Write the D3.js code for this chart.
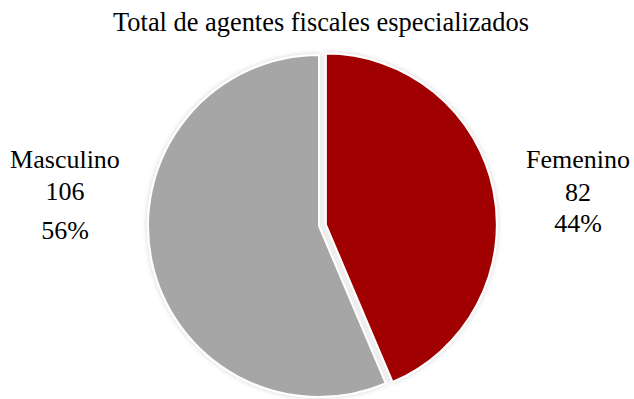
<!DOCTYPE html>
<html>
<head>
<meta charset="utf-8">
<script src="https://cdn.jsdelivr.net/npm/d3@7"></script>
<style>
    body { margin: 0; background: #fff; }
    svg text { font-family: "Times New Roman", "Liberation Serif", Times, serif; fill: #000; }
</style>
</head>
<body>
<div id="chart"></div>
<script>
const title = 'Total de agentes fiscales especializados';
const categories = ['Femenino', 'Masculino'];
const values = [82, 106];
const percentLabels = ['44%', '56%'];
const colors = ['#a00000', '#a6a6a6'];

function pie() {
    let width = 634;
    let height = 399;
    let center = {x: 319, y: 226};
    let radius = 171;
    let explode = 7;
    let svg;
    let data;

    function exports(_selection) {
        _selection.each(function(_data) {
            data = _data;
            buildSVG(this);
            drawTitle();
            drawSlices();
            drawLabels();
        });
    }

    function buildSVG(container) {
        svg = d3.select(container)
            .append('svg')
            .attr('width', width)
            .attr('height', height);

        let filter = svg.append('defs')
          .append('filter')
            .attr('id', 'shadow')
            .attr('x', '-10%').attr('y', '-10%')
            .attr('width', '120%').attr('height', '120%');
        filter.append('feDropShadow')
            .attr('dx', 0).attr('dy', 0)
            .attr('stdDeviation', 2.5)
            .attr('flood-color', '#000')
            .attr('flood-opacity', 0.18);
    }

    function drawTitle() {
        svg.append('text')
            .attr('x', 321)
            .attr('y', 31)
            .attr('text-anchor', 'middle')
            .style('font-size', '26.4px')
            .text(title);
    }

    function drawSlices() {
        let arcs = d3.pie()
            .sort(null)
            .value(d => d.value)(data);

        let arc = d3.arc()
            .innerRadius(0)
            .outerRadius(radius);

        svg.append('g')
            .attr('transform', `translate(${center.x},${center.y})`)
          .selectAll('path')
          .data(arcs)
          .join('path')
            .attr('transform', (d, i) => {
                if (i !== 0) return null;
                let mid = (d.startAngle + d.endAngle) / 2;
                return `translate(${Math.sin(mid) * explode},${-Math.cos(mid) * explode})`;
            })
            .attr('d', arc)
            .attr('fill', d => d.data.color)
            .attr('stroke', '#fff')
            .attr('stroke-width', 2)
            .attr('filter', 'url(#shadow)');
    }

    function drawLabels() {
        // label blocks sit beside the pie, one per category
        let spots = [
            {x: 578, lines: [168, 201, 232]},
            {x: 65, lines: [168, 200, 239]}
        ];

        data.forEach((d, i) => {
            let texts = [d.name, String(d.value), d.percent];
            texts.forEach((t, j) => {
                svg.append('text')
                    .attr('x', spots[i].x)
                    .attr('y', spots[i].lines[j])
                    .attr('text-anchor', 'middle')
                    .style('font-size', '26px')
                    .text(t);
            });
        });
    }

    return exports;
}

const rows = categories.map((name, i) => ({
    name: name,
    value: values[i],
    percent: percentLabels[i],
    color: colors[i]
}));

d3.select('#chart')
    .datum(rows)
    .call(pie());
</script>
</body>
</html>
